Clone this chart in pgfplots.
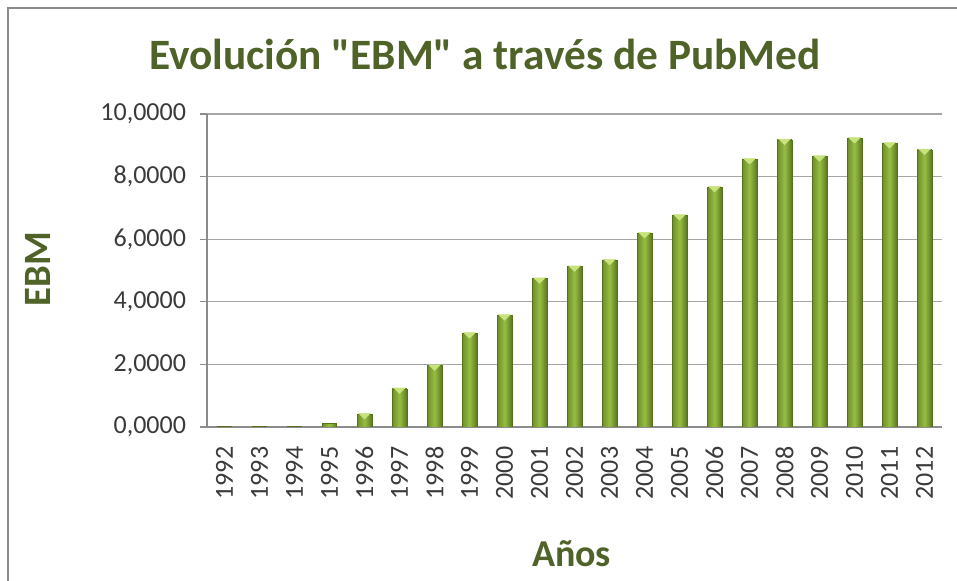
\documentclass[border=0pt]{standalone}
\usepackage{pgfplots}
\pgfplotsset{compat=1.18}
\usepackage{fontspec}
\setmainfont{Carlito}[Ligatures=TeXOff]
\definecolor{titlegreen}{HTML}{4F6228}
\definecolor{barmid}{HTML}{97BE43}
\definecolor{barleft}{HTML}{6E8E2A}
\definecolor{barright}{HTML}{5C7A21}
\definecolor{baredge}{HTML}{56701E}
\definecolor{barcap}{HTML}{C8E27E}
\definecolor{gridgray}{HTML}{A6A6A6}
\definecolor{framegray}{HTML}{8C8C8C}
\definecolor{ticktext}{HTML}{3A3A3A}
\pgfplotsset{
  mybar/.style={ybar, bar width=10.9pt, bar shift=0pt, draw=baredge, line width=0.4pt,
    left color=barleft, right color=barright, middle color=barmid, forget plot},
}
\begin{document}
\begin{tikzpicture}
\useasboundingbox (-155.25pt,-115.5pt) rectangle (562.5pt,320.25pt);
\draw[framegray, line width=2.2pt] (-149.25pt,-120pt) -- (-149.25pt,314.25pt) -- (570pt,314.25pt);
\begin{axis}[
  at={(0,0)}, anchor=south west,
  scale only axis,
  width=551.25pt, height=234.75pt,
  xmin=-0.5, xmax=20.5,
  ymin=0, ymax=10,
  axis x line*=bottom, axis y line*=left,
  axis line style={draw=framegray, line width=0.8pt},
  ymajorgrids, grid style={gridgray, line width=0.8pt},
  ytick={0,2,4,6,8,10},
  xtick={0,...,20},
  xticklabels={1992,1993,1994,1995,1996,1997,1998,1999,2000,2001,2002,2003,2004,2005,2006,2007,2008,2009,2010,2011,2012},
  xtick style={draw=none},
  ytick style={draw=framegray, line width=0.8pt},
  tick align=outside, major tick length=5.25pt,
  yticklabel style={font=\fontsize{19.5}{20}\selectfont, text=ticktext, xshift=-7pt,
    /pgf/number format/fixed, /pgf/number format/fixed zerofill, /pgf/number format/precision=4,
    /pgf/number format/use comma, /pgf/number format/1000 sep={}, /pgf/number format/assume math mode=true},
  xticklabel style={font=\fontsize{19.5}{20}\selectfont, text=ticktext, rotate=90, anchor=east, xshift=-6pt},
  ylabel={EBM},
  ylabel style={at={(axis description cs:-0.2125,0.505)}, anchor=base, rotate=0, font=\fontsize{29}{31}\selectfont\bfseries, text=titlegreen},
  xlabel={Años},
  xlabel style={at={(axis description cs:0.496,-0.447)}, anchor=base, font=\fontsize{28.5}{31}\selectfont\bfseries, text=titlegreen},
  every axis title shift=0pt,
  title={Evolución "EBM" a través de PubMed},
  title style={at={(axis description cs:0.378,1.1406)}, anchor=base, font=\fontsize{32.5}{34}\selectfont\bfseries, text=titlegreen},
]
\addplot[mybar] coordinates {(0,0.01)};
\addplot[mybar] coordinates {(1,0.01)};
\addplot[mybar] coordinates {(2,0.01)};
\addplot[mybar] coordinates {(3,0.12)};
\addplot[mybar] coordinates {(4,0.41)};
\addplot[mybar] coordinates {(5,1.22)};
\addplot[mybar] coordinates {(6,1.96)};
\addplot[mybar] coordinates {(7,2.99)};
\addplot[mybar] coordinates {(8,3.56)};
\addplot[mybar] coordinates {(9,4.74)};
\addplot[mybar] coordinates {(10,5.12)};
\addplot[mybar] coordinates {(11,5.33)};
\addplot[mybar] coordinates {(12,6.19)};
\addplot[mybar] coordinates {(13,6.76)};
\addplot[mybar] coordinates {(14,7.66)};
\addplot[mybar] coordinates {(15,8.55)};
\addplot[mybar] coordinates {(16,9.17)};
\addplot[mybar] coordinates {(17,8.64)};
\addplot[mybar] coordinates {(18,9.22)};
\addplot[mybar] coordinates {(19,9.06)};
\addplot[mybar] coordinates {(20,8.85)};
% bevelled light caps on the bar tops
\addplot[only marks, color=barcap, fill=barcap, draw=none, mark=triangle*, mark size=5pt,
  mark options={color=barcap, fill=barcap, draw=none, rotate=180, yscale=0.55, yshift=1.4pt}, forget plot]
  coordinates {
  (4,0.41) (5,1.22) (6,1.96) (7,2.99)
  (8,3.56) (9,4.74) (10,5.12) (11,5.33) (12,6.19) (13,6.76) (14,7.66)
  (15,8.55) (16,9.17) (17,8.64) (18,9.22) (19,9.06) (20,8.85)
  };
\end{axis}
\end{tikzpicture}
\end{document}
